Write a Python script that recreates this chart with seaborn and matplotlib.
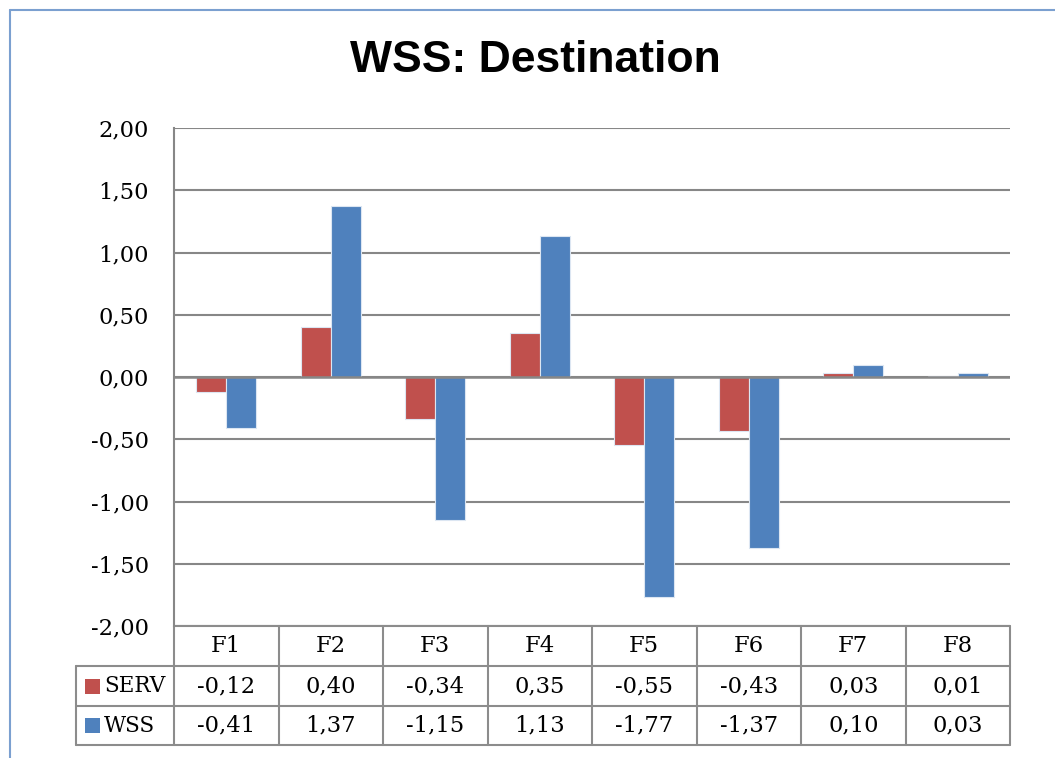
import matplotlib
matplotlib.use("Agg")
import matplotlib.pyplot as plt
from matplotlib.patches import Rectangle
from matplotlib.lines import Line2D
import seaborn as sns
import pandas as pd

categories = ["F1", "F2", "F3", "F4", "F5", "F6", "F7", "F8"]
serv = [-0.12, 0.40, -0.34, 0.35, -0.55, -0.43, 0.03, 0.01]
wss = [-0.41, 1.37, -1.15, 1.13, -1.77, -1.37, 0.10, 0.03]
series_names = ["SERV", "WSS"]
colors = {"SERV": "#C0504D", "WSS": "#4F81BD"}
yticks = [-2.0, -1.5, -1.0, -0.5, 0.0, 0.5, 1.0, 1.5, 2.0]
title = "WSS: Destination"

df = pd.DataFrame({
    "cat": categories * 2,
    "series": ["SERV"] * len(categories) + ["WSS"] * len(categories),
    "value": serv + wss,
})

sns.set_theme(style="white")
plt.rcParams["font.family"] = ["DejaVu Serif"]
plt.rcParams["text.color"] = "black"
plt.rcParams["ytick.color"] = "black"
plt.rcParams["ytick.labelcolor"] = "black"

W, H = 1055, 758
fig = plt.figure(figsize=(W / 100, H / 100), dpi=100)
ax_l, ax_r, ax_t, ax_b = 174, 1010, 128, 626
ax = fig.add_axes([ax_l / W, 1 - ax_b / H, (ax_r - ax_l) / W, (ax_b - ax_t) / H])

sns.barplot(data=df, x="cat", y="value", hue="series", order=categories,
            hue_order=series_names, palette=colors, width=0.57, ax=ax,
            legend=False, saturation=1, edgecolor="#DCE6F2", linewidth=0.8)

fs = 16.3
ax.set_xlim(-0.5, len(categories) - 0.5)
ax.set_ylim(-2, 2)
ax.set_yticks(yticks)
ax.set_yticklabels([f"{v:.2f}".replace(".", ",") for v in yticks], fontsize=fs,
                   color="black")
ax.set_xticks([])
ax.set_xlabel("")
ax.set_ylabel("")
ax.tick_params(axis="y", length=0, pad=18)
grid_c = "#878787"
ax.yaxis.grid(True, color=grid_c, linewidth=1.5)
ax.set_axisbelow(True)
for s in ["top", "right", "bottom"]:
    ax.spines[s].set_visible(False)
ax.spines["left"].set_color(grid_c)
ax.spines["left"].set_linewidth(1.5)
ax.axhline(0, color=grid_c, linewidth=1.8, zorder=5)

# data table below the axes
axh = ax_b - ax_t
axw = ax_r - ax_l
row_edges_px = [626, 666, 706, 745]
row_y = [(ax_b - p) / axh for p in row_edges_px]
label_x = (76 - ax_l) / axw
tc = "#8C8C8C"
tlw = 1.5
tr = ax.transAxes

def hline(x0, x1, y):
    ax.add_line(Line2D([x0, x1], [y, y], transform=tr, color=tc, lw=tlw, clip_on=False))

def vline(x, y0, y1):
    ax.add_line(Line2D([x, x], [y0, y1], transform=tr, color=tc, lw=tlw, clip_on=False))

n = len(categories)
hline(0, 1, row_y[0])
hline(label_x, 1, row_y[1])
hline(label_x, 1, row_y[2])
hline(label_x, 1, row_y[3])
for i in range(n + 1):
    vline(i / n, row_y[0], row_y[3])
vline(label_x, row_y[1], row_y[3])

for i, c in enumerate(categories):
    xc = (i + 0.5) / n
    ax.text(xc, (row_y[0] + row_y[1]) / 2, c, transform=tr, ha="center", va="center",
            fontsize=fs, color="black", clip_on=False)
    for r, vals in enumerate([serv, wss]):
        ax.text(xc, (row_y[r + 1] + row_y[r + 2]) / 2,
                f"{vals[i]:.2f}".replace(".", ","), transform=tr, ha="center",
                va="center", fontsize=fs, color="black", clip_on=False)

sq_x0 = (85 - ax_l) / axw
sq_w = 15 / axw
sq_h = 15 / axh
txt_x = (104 - ax_l) / axw
for r, name in enumerate(series_names):
    yc = (row_y[r + 1] + row_y[r + 2]) / 2
    ax.add_patch(Rectangle((sq_x0, yc - sq_h / 2), sq_w, sq_h, transform=tr,
                           facecolor=colors[name], edgecolor="none", clip_on=False))
    ax.text(txt_x, yc, name, transform=tr, ha="left", va="center", fontsize=fs - 0.8,
            color="black", clip_on=False)

# title
fig.text(535 / W, 1 - 60 / H, title, ha="center", va="center", color="black",
         fontsize=32, fontweight="bold", family=["Liberation Sans", "DejaVu Sans"])

# chart-area border (left and top visible)
bc = "#7BA0D0"
fig.add_artist(Line2D([10 / W, 10 / W], [0, 1 - 10 / H], transform=fig.transFigure,
                      color=bc, lw=1.5))
fig.add_artist(Line2D([10 / W, 1], [1 - 10 / H, 1 - 10 / H], transform=fig.transFigure,
                      color=bc, lw=1.5))

fig.savefig("out.png", dpi=100)
